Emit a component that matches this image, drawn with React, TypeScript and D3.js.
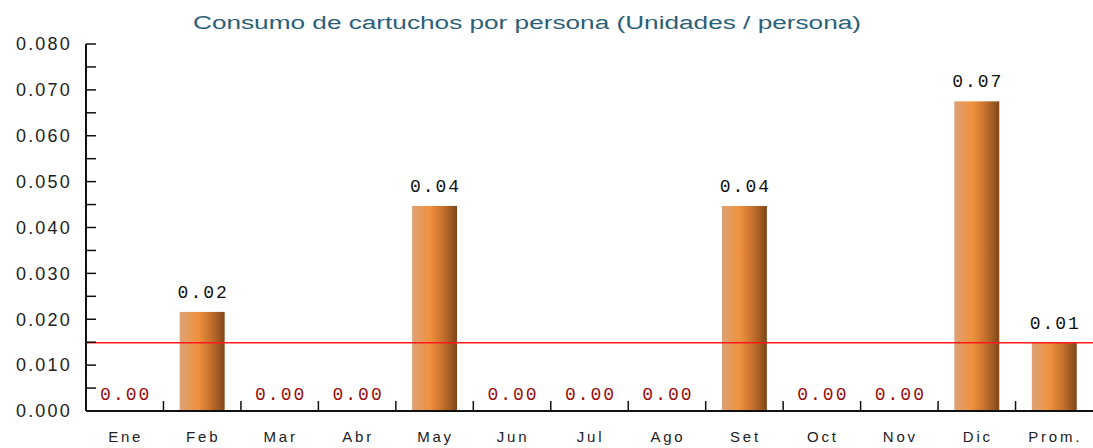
import React, { useEffect, useRef } from 'react';
import * as d3 from 'd3';

const months = ['Ene', 'Feb', 'Mar', 'Abr', 'May', 'Jun', 'Jul', 'Ago', 'Set', 'Oct', 'Nov', 'Dic', 'Prom.'];
const values = [0, 0.0216, 0, 0, 0.0447, 0, 0, 0, 0.0447, 0, 0, 0.0675, 0.0149];
const valueLabels = ['0.00', '0.02', '0.00', '0.00', '0.04', '0.00', '0.00', '0.00', '0.04', '0.00', '0.00', '0.07', '0.01'];
const averageLine = 0.0149;
const yTicks = [0, 0.01, 0.02, 0.03, 0.04, 0.05, 0.06, 0.07, 0.08];

const Chart = () => {
  const svgRef = useRef<SVGSVGElement | null>(null);

  useEffect(() => {
    const W = 1093;
    const H = 448;
    const svg = d3.select(svgRef.current).attr('width', W).attr('height', H);
    svg.selectAll('*').remove();

    const margin = { top: 44, right: 0, bottom: 37, left: 86 };
    const width = W - margin.left - margin.right;
    const height = H - margin.top - margin.bottom;

    const defs = svg.append('defs');
    const grad = defs.append('linearGradient').attr('id', 'barGrad')
      .attr('x1', '0%').attr('x2', '100%').attr('y1', '0%').attr('y2', '0%');
    grad.append('stop').attr('offset', '0%').attr('stop-color', '#dca276');
    grad.append('stop').attr('offset', '40%').attr('stop-color', '#f0913e');
    grad.append('stop').attr('offset', '70%').attr('stop-color', '#c26f2c');
    grad.append('stop').attr('offset', '100%').attr('stop-color', '#7e4718');

    svg.append('text')
      .attr('x', 527).attr('y', 29)
      .attr('text-anchor', 'middle')
      .attr('font-family', 'Liberation Sans, Arial, sans-serif')
      .attr('font-size', 18)
      .attr('textLength', 668)
      .attr('lengthAdjust', 'spacingAndGlyphs')
      .attr('fill', '#2b6178')
      .text('Consumo de cartuchos por persona (Unidades / persona)');

    const g = svg.append('g').attr('transform', `translate(${margin.left},${margin.top})`);

    const x = d3.scaleBand().domain(months).range([0, width]).paddingInner(0.42).paddingOuter(0.21);
    const y = d3.scaleLinear().domain([0, 0.08]).range([height, 0]);

    // bars
    g.selectAll('rect.bar')
      .data(months)
      .enter()
      .append('rect')
      .attr('class', 'bar')
      .attr('x', d => x(d) as number)
      .attr('width', x.bandwidth())
      .attr('y', (d, i) => y(values[i]))
      .attr('height', (d, i) => height - y(values[i]))
      .attr('fill', 'url(#barGrad)');

    // average line
    g.append('line')
      .attr('x1', 0).attr('x2', width)
      .attr('y1', y(averageLine)).attr('y2', y(averageLine))
      .attr('stroke', '#ff1a1a').attr('stroke-width', 1.5);

    // value labels
    g.selectAll('text.val')
      .data(months)
      .enter()
      .append('text')
      .attr('class', 'val')
      .attr('x', d => (x(d) as number) + x.bandwidth() / 2 + 1)
      .attr('y', (d, i) => values[i] === 0 ? y(0) - 11 : y(values[i]) - 14)
      .attr('text-anchor', 'middle')
      .attr('font-family', 'Liberation Mono, monospace')
      .attr('font-size', 18)
      .attr('letter-spacing', 2)
      .attr('fill', (d, i) => values[i] === 0 ? '#9b0a0a' : '#111')
      .text((d, i) => valueLabels[i]);

    // y axis
    const yAxis = d3.axisLeft(y).tickValues(yTicks).tickFormat(d3.format('.3f')).tickSize(0).tickPadding(14);
    const ya = g.append('g').call(yAxis);
    ya.select('.domain').remove();
    ya.selectAll('text')
      .attr('font-family', 'Liberation Sans, Arial, sans-serif')
      .attr('font-size', 18)
      .attr('letter-spacing', 2.2)
      .attr('fill', '#222');

    const minor = d3.range(0, 0.0801, 0.005);
    g.selectAll('line.ytick')
      .data(minor)
      .enter()
      .append('line')
      .attr('class', 'ytick')
      .attr('x1', 0).attr('x2', 10)
      .attr('y1', d => y(d)).attr('y2', d => y(d))
      .attr('stroke', '#111').attr('stroke-width', 1.5);

    g.append('line')
      .attr('x1', 0).attr('x2', 0)
      .attr('y1', y(0.08)).attr('y2', height)
      .attr('stroke', '#111').attr('stroke-width', 2);

    // x axis
    g.append('line')
      .attr('x1', 0).attr('x2', width)
      .attr('y1', height).attr('y2', height)
      .attr('stroke', '#111').attr('stroke-width', 2);

    const step = x.step();
    g.selectAll('line.xtick')
      .data(months.slice(1))
      .enter()
      .append('line')
      .attr('class', 'xtick')
      .attr('x1', d => (x(d) as number) - (step - x.bandwidth()) / 2)
      .attr('x2', d => (x(d) as number) - (step - x.bandwidth()) / 2)
      .attr('y1', height).attr('y2', height - 10)
      .attr('stroke', '#111').attr('stroke-width', 1.5);

    g.selectAll('text.xlab')
      .data(months)
      .enter()
      .append('text')
      .attr('class', 'xlab')
      .attr('x', d => (x(d) as number) + x.bandwidth() / 2 + 1)
      .attr('y', height + 31)
      .attr('text-anchor', 'middle')
      .attr('font-family', 'Liberation Sans, Arial, sans-serif')
      .attr('font-size', 15)
      .attr('letter-spacing', 2.8)
      .attr('fill', '#222')
      .text(d => d);
  }, []);

  return (
    <svg ref={svgRef} style={{ position: 'absolute', left: 0, top: 0, background: '#fff' }}></svg>
  );
};

export default function App() {
  return <Chart />;
}
